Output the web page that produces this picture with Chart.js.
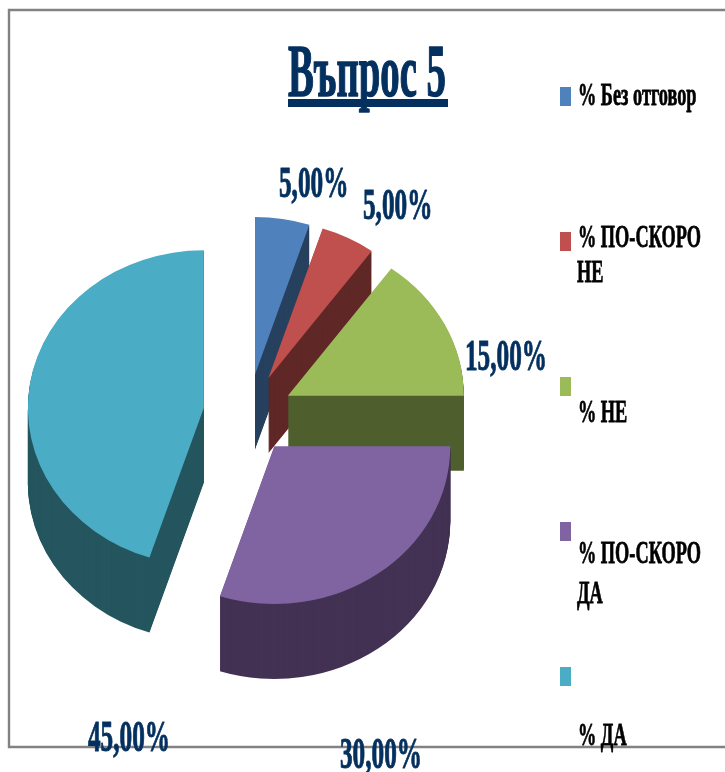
<!DOCTYPE html>
<html><head><meta charset="utf-8">
<style>html,body{margin:0;padding:0;background:#fff}canvas{display:block}</style>
<script src="https://cdn.jsdelivr.net/npm/chart.js@4"></script>
</head><body><canvas id="c" width="725" height="772"></canvas>
<script>
const chartTitle = 'Въпрос 5';
const categories = ['% Без отговор', '% ПО-СКОРО НЕ', '% НЕ', '% ПО-СКОРО ДА', '% ДА'];
const values = [5, 5, 15, 30, 45];
const topColors = ['#4f81bd', '#c0504d', '#9bbb59', '#8064a2', '#4bacc6'];
const sideColors = ['#27405f', '#5f2726', '#4f5f2d', '#433254', '#25565f'];

// layout of the picture (not data)
const squash = 0.895, depth = 75, explode = 44.7;
const drawOrder = [0, 1, 2, 4, 3];
const valueLabelPos = [[279, 197], [363, 219], [465, 370], [340, 768], [88, 751]];
const swatchY = [87, 232, 377, 522, 667];
const legendLines = [
  [['% Без отговор', 578, 105]],
  [['% ПО-СКОРО', 578, 247], ['НЕ', 577, 282]],
  [['% НЕ', 578, 422]],
  [['% ПО-СКОРО', 578, 563], ['ДА', 577, 603]],
  [['% ДА', 578, 745]]
];

function fitted(ctx, text, x, base, sx, weight, color) {
  ctx.save();
  ctx.translate(x, base);
  ctx.scale(sx, 1);
  ctx.fillStyle = color;
  ctx.strokeStyle = color;
  ctx.lineWidth = weight;
  ctx.lineJoin = 'round';
  ctx.textAlign = 'left';
  ctx.textBaseline = 'alphabetic';
  ctx.fillText(text, 0, 0);
  ctx.strokeText(text, 0, 0);
  ctx.restore();
}

const pie3d = {
  id: 'pie3d',
  beforeDatasetDraw(chart, args) {
    const ctx = chart.ctx;
    const arcs = args.meta.data;
    drawOrder.forEach(i => {
      const arc = arcs[i];
      const mid = (arc.startAngle + arc.endAngle) / 2;
      const bg = arc.options.backgroundColor;
      const place = d => {
        ctx.save();
        ctx.translate(arc.x, arc.y + d);
        ctx.scale(1, squash);
        ctx.translate(-arc.x, -arc.y);
        ctx.translate(Math.cos(mid) * explode, Math.sin(mid) * explode);
      };
      arc.options.backgroundColor = sideColors[i];
      for (let d = depth; d >= 1; d--) {
        place(d);
        arc.draw(ctx);
        ctx.restore();
      }
      arc.options.backgroundColor = bg;
      place(0);
      arc.draw(ctx);
      ctx.restore();
    });
    return false;
  },
  beforeDraw(chart) {
    const ctx = chart.ctx;
    ctx.save();
    ctx.strokeStyle = '#828282';
    ctx.lineWidth = 2.4;
    ctx.beginPath();
    ctx.moveTo(725, 10); ctx.lineTo(9, 10); ctx.lineTo(9, 747); ctx.lineTo(725, 747);
    ctx.stroke();
    ctx.restore();
  },
  afterDraw(chart) {
    const ctx = chart.ctx;
    const navy = '#03305f';
    // title
    ctx.font = 'bold 74px "Liberation Serif"';
    const tw = ctx.measureText(chartTitle).width;
    fitted(ctx, chartTitle, 288, 96, 158 / tw, 1.6, navy);
    ctx.fillStyle = navy;
    ctx.fillRect(288, 99, 160, 8);
    // value labels
    ctx.font = 'bold 44px "Liberation Serif"';
    const vw = ctx.measureText('15,00%').width;
    values.forEach((v, i) => {
      const t = v.toFixed(2).replace('.', ',') + '%';
      fitted(ctx, t, valueLabelPos[i][0], valueLabelPos[i][1], 82 / vw, 1, navy);
    });
    // legend
    ctx.font = 'bold 32px "Liberation Serif"';
    const lw = ctx.measureText('% ПО-СКОРО').width;
    categories.forEach((c, i) => {
      ctx.fillStyle = topColors[i];
      ctx.fillRect(560, swatchY[i], 11, 19);
      legendLines[i].forEach(l => fitted(ctx, l[0], l[1], l[2], 123 / lw, 0.8, '#000'));
    });
  }
};

new Chart(document.getElementById('c'), {
  type: 'pie',
  data: { labels: categories, datasets: [{ data: values, backgroundColor: topColors, borderWidth: 0 }] },
  options: {
    responsive: false,
    animation: false,
    radius: 176,
    layout: { padding: { top: 56, right: 229, left: 0, bottom: 0 } },
    plugins: { legend: { display: false }, tooltip: { enabled: false }, title: { display: false } }
  },
  plugins: [pie3d]
});
</script></body></html>
